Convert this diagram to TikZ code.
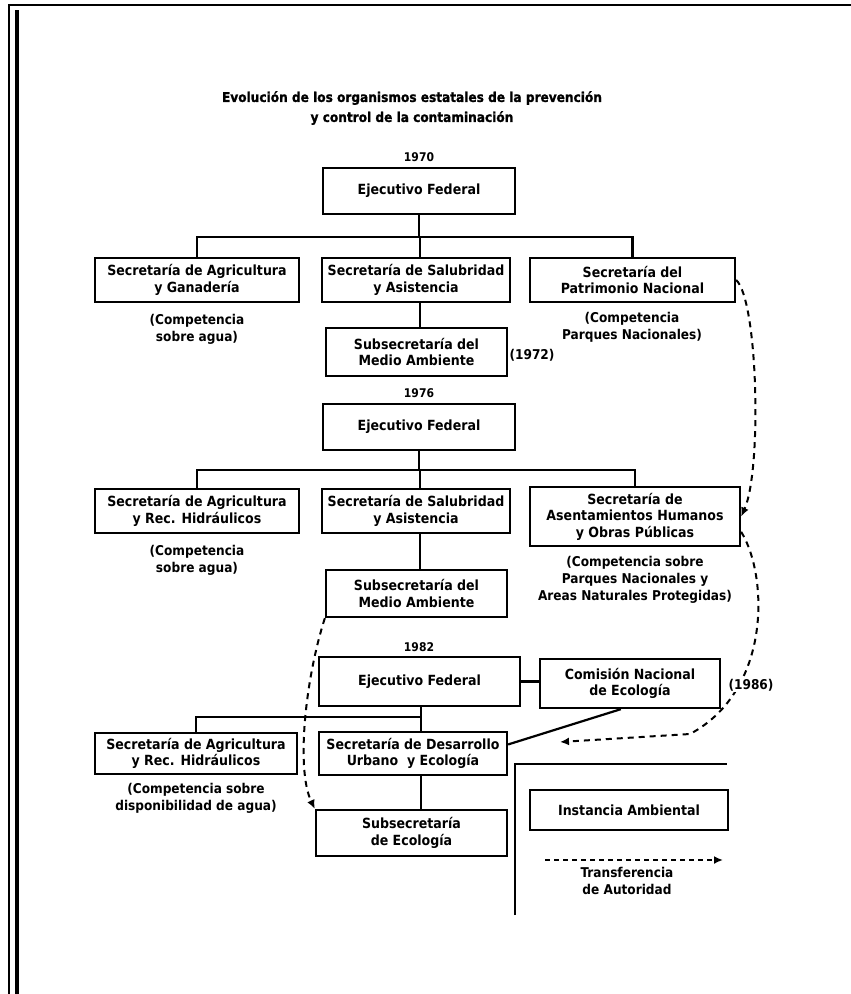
\documentclass[tikz,border=0pt]{standalone}
\usepackage{fontspec}
\usetikzlibrary{arrows.meta,calc}
\newfontfamily\orgfont{DejaVu Sans Condensed}
\newfontfamily\headfont{DejaVu Sans Condensed Bold}[FakeBold=1.2]
\begin{document}
\begin{tikzpicture}[x=1pt,y=-1pt,
  orgbox/.style={draw, line width=2.3pt, align=center, inner sep=0pt,
    font=\orgfont\bfseries\fontsize{14}{16.5}\selectfont},
  note/.style={align=center, inner sep=0pt,
    font=\orgfont\bfseries\fontsize{13.5}{17}\selectfont},
  yearlbl/.style={inner sep=0pt, font=\orgfont\bfseries\fontsize{12}{13}\selectfont},
  titlelbl/.style={align=center, inner sep=0pt,
    font=\headfont\fontsize{13.5}{20}\selectfont},
  conn/.style={line width=2.2pt},
  transfer/.style={line width=2pt, dash pattern=on 6pt off 5pt,
    -{Latex[length=9pt,width=8pt]}}]
\useasboundingbox (0,0) rectangle (851,994);
\fill[white] (0,0) rectangle (851,994);
% page border
\draw[line width=1.3pt] (9,994) -- (9,5) -- (851,5);
\draw[line width=3.2pt] (17,10) -- (17,994);
% title
\node[titlelbl] (title) at (412,108) {Evolución de los organismos estatales de la prevención\\y control de la contaminación};
% ---------- 1970
\node[yearlbl] (y70) at (419,157) {1970};
\node[orgbox, minimum width=192pt, minimum height=46pt] (ef1) at (419,191) {Ejecutivo Federal};
\coordinate (bus1) at (420,237);
\node[orgbox, minimum width=204pt, minimum height=44pt] (a1) at (197,280) {Secretaría de Agricultura\\y Ganadería};
\node[orgbox, minimum width=188pt, minimum height=44pt] (b1) at (416,280) {Secretaría de Salubridad\\y Asistencia};
\node[orgbox, minimum width=205pt, minimum height=44pt] (c1) at (632.5,280) {Secretaría del\\Patrimonio Nacional};
\node[note] (na1) at (197,329) {(Competencia\\sobre agua)};
\node[note] (nc1) at (632,327) {(Competencia\\Parques Nacionales)};
\node[orgbox, minimum width=181pt, minimum height=48pt] (s1) at (416.5,352) {Subsecretaría del\\Medio Ambiente};
\node[note] (y72) at (532,355) {(1972)};
\draw[conn] (ef1.south) -- (ef1.south |- bus1);
\draw[conn] (a1.north) |- (bus1) -| (c1.north);
\draw[conn] (bus1) -- (bus1 |- b1.north);
\draw[conn] (b1.south -| bus1) -- (bus1 |- s1.north);
% ---------- 1976
\node[yearlbl] (y76) at (419,393) {1976};
\node[orgbox, minimum width=192pt, minimum height=46pt] (ef2) at (419,427) {Ejecutivo Federal};
\coordinate (bus2) at (420,470);
\node[orgbox, minimum width=204pt, minimum height=44pt] (a2) at (197,511) {Secretaría de Agricultura\\y Rec. Hidráulicos};
\node[orgbox, minimum width=188pt, minimum height=44pt] (b2) at (416,511) {Secretaría de Salubridad\\y Asistencia};
\node[orgbox, minimum width=210pt, minimum height=59pt] (c2) at (635,516.5) {Secretaría de\\Asentamientos Humanos\\y Obras Públicas};
\node[note] (na2) at (197,560) {(Competencia\\sobre agua)};
\node[note] (nc2) at (635,580) {(Competencia sobre\\Parques Nacionales y\\Areas Naturales Protegidas)};
\node[orgbox, minimum width=181pt, minimum height=47pt] (s2) at (416.5,593.5) {Subsecretaría del\\Medio Ambiente};
\draw[conn] (ef2.south) -- (ef2.south |- bus2);
\draw[conn] (a2.north) |- (bus2) -| (c2.north);
\draw[conn] (bus2) -- (bus2 |- b2.north);
\draw[conn] (b2.south -| bus2) -- (bus2 |- s2.north);
% ---------- 1982
\node[yearlbl] (y82) at (419,647) {1982};
\node[orgbox, minimum width=201pt, minimum height=49pt] (ef3) at (419.5,681.5) {Ejecutivo Federal};
\node[orgbox, minimum width=180pt, minimum height=49pt] (cne) at (630,683.5) {Comisión Nacional\\de Ecología};
\coordinate (bus3) at (421,717);
\node[orgbox, minimum width=202pt, minimum height=41pt] (a3) at (196,753.5) {Secretaría de Agricultura\\y Rec. Hidráulicos};
\node[orgbox, minimum width=188pt, minimum height=43pt] (b3) at (413,753.5) {Secretaría de Desarrollo\\Urbano~~y Ecología};
\node[note] (na3) at (196,798) {(Competencia sobre\\disponibilidad de agua)};
\node[orgbox, minimum width=191pt, minimum height=46pt] (s3) at (411.5,833) {Subsecretaría\\de Ecología};
\draw[conn] (ef3.east) -- (ef3.east -| cne.west);
\draw[conn] (ef3.south -| bus3) -- (bus3 |- b3.north);
\draw[conn] (a3.north) |- (bus3);
\draw[conn] (b3.south -| bus3) -- (bus3 |- s3.north);
\draw[conn] ($(b3.north east)!0.3!(b3.south east)$) -- ($(cne.south west)!0.45!(cne.south east)$);
% ---------- transfers
\draw[transfer] (c1.east) .. controls (758,300) and (762,470) .. (c2.east);
\coordinate (arr86) at (560,742);
\draw[transfer] ($(c2.east)!0.5!(c2.south east)$) .. controls (768,575) and (772,690) .. (690,734) -- (arr86);
\node[note, fill=white, inner sep=1pt] (y86) at (751,685) {(1986)};
\draw[transfer] (s2.south west) .. controls (305,680) and (296,770) .. (s3.north west);
% ---------- legend
\coordinate (lg1) at (515,915);
\coordinate (lg2) at (515,764);
\coordinate (lg3) at (727,764);
\draw[conn] (lg1) -- (lg2) -- (lg3);
\node[orgbox, minimum width=198pt, minimum height=40pt] (inst) at (629,810) {Instancia Ambiental};
\coordinate (la) at (545,860);
\coordinate (lb) at (723,860);
\draw[transfer, dash pattern=on 5pt off 4pt] (la) -- (lb);
\node[note] (ltxt) at (627,881) {Transferencia\\de Autoridad};
\end{tikzpicture}
\end{document}
